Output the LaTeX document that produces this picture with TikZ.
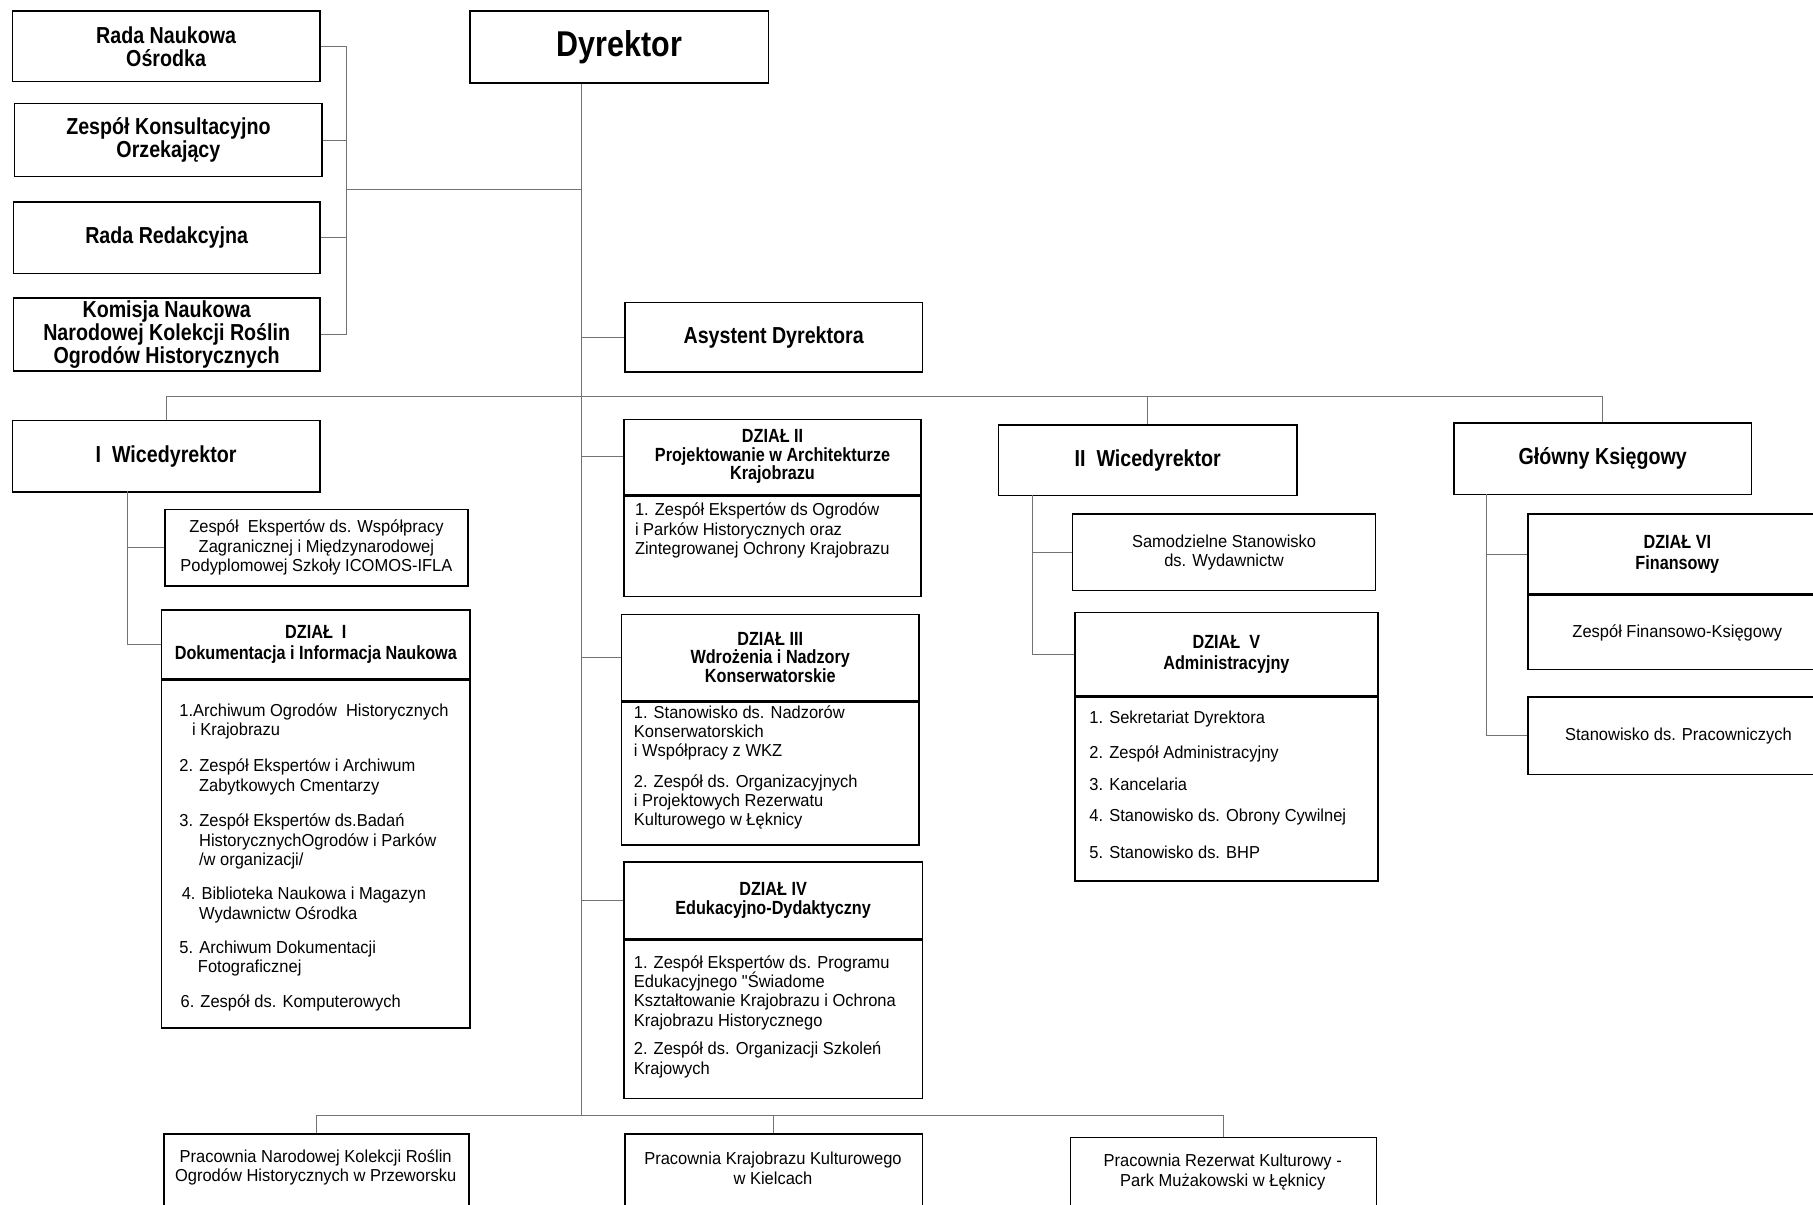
\documentclass[tikz,border=0pt]{standalone}
\usepackage{fontspec}
\usetikzlibrary{calc}
\newfontfamily\ttlfont[FakeStretch=0.85]{Liberation Sans}
\newfontfamily\bodyfont[FakeStretch=0.95]{Liberation Sans}
\tikzset{
  box/.style={draw=black, line width=1.3pt, inner sep=0pt, anchor=north west},
  ttl/.style={font={\ttlfont\bfseries\fontsize{20}{20}\selectfont}, align=center},
  hdr/.style={font={\ttlfont\bfseries\fontsize{16.5}{16}\selectfont}, align=center},
  bdy/.style={font={\bodyfont\fontsize{15}{16.7}\selectfont}, align=left, inner sep=0pt, anchor=north west},
  bdc/.style={font={\bodyfont\fontsize{15}{16.7}\selectfont}, align=center},
  conn/.style={draw=black!55, line width=0.9pt},
}
\begin{document}
\begin{tikzpicture}[x=1pt, y=-1pt]
\useasboundingbox (0,0) rectangle (1568,1042);
\fill[white] (0,0) rectangle (1568,1042);
\clip (0,0) rectangle (1568,1042);

% top-left councils
\node[box, ttl, minimum width=266pt, minimum height=61pt] (rada) at (10,9) {Rada Naukowa\\Ośrodka};
\node[box, ttl, minimum width=266pt, minimum height=63pt] (zko) at (12,89) {Zespół Konsultacyjno\\Orzekający};
\node[box, ttl, minimum width=265pt, minimum height=62pt] (rr) at (11,174) {Rada Redakcyjna};
\node[box, ttl, minimum width=265pt, minimum height=63pt] (kom) at (11,257) {Komisja Naukowa\\Narodowej Kolekcji Roślin\\Ogrodów Historycznych};

% director
\node[box, font={\ttlfont\bfseries\fontsize{31}{31}\selectfont}, minimum width=258pt, minimum height=62pt] (dyr) at (406,9) {Dyrektor};
\node[box, ttl, minimum width=257pt, minimum height=60pt] (asy) at (540,261) {Asystent Dyrektora};

% level 2
\node[box, ttl, minimum width=266pt, minimum height=62pt] (w1) at (10,363) {I~~Wicedyrektor};
\node[box, ttl, minimum width=258pt, minimum height=61pt] (w2) at (863,367) {II~~Wicedyrektor};
\node[box, ttl, minimum width=257pt, minimum height=62pt] (gk) at (1257,365) {Główny Księgowy};

% I Wicedyrektor subtree
\node[box, bdc, minimum width=262pt, minimum height=66pt] (zew) at (142,440) {Zespół~~Ekspertów ds. Współpracy\\Zagranicznej i Międzynarodowej\\Podyplomowej Szkoły ICOMOS-IFLA};
\node[box, hdr, minimum width=267pt, minimum height=59pt] (d1h) at (139,527) {DZIAŁ~~I\\[2pt]Dokumentacja i Informacja Naukowa};
\node[box, minimum width=267pt, minimum height=301pt] (d1b) at (d1h.south west) {};
\node[bdy] (d1t) at (155,608) {1.Archiwum Ogrodów~~Historycznych\\
\hspace*{11pt}i Krajobrazu\\[15pt]
2. Zespół Ekspertów i Archiwum\\
\hspace*{17pt}Zabytkowych Cmentarzy\\[14pt]
3. Zespół Ekspertów ds.Badań\\
\hspace*{17pt}HistorycznychOgrodów i Parków\\
\hspace*{17pt}/w organizacji/\\[13pt]
\hspace*{2pt}4. Biblioteka Naukowa i Magazyn\\
\hspace*{17pt}Wydawnictw Ośrodka\\[13pt]
5. Archiwum Dokumentacji\\
\hspace*{16pt}Fotograficznej\\[13pt]
\hspace*{1pt}6. Zespół ds. Komputerowych};

% middle column departments
\node[box, hdr, minimum width=257pt, minimum height=65pt] (d2h) at (539,362) {DZIAŁ II\\Projektowanie w Architekturze\\Krajobrazu};
\node[box, minimum width=257pt, minimum height=87pt] (d2b) at (d2h.south west) {};
\node[bdy] (d2t) at (549,435) {1. Zespół Ekspertów ds Ogrodów\\i Parków Historycznych oraz\\Zintegrowanej Ochrony Krajobrazu};

\node[box, hdr, minimum width=257pt, minimum height=74pt] (d3h) at (537,531) {DZIAŁ III\\Wdrożenia i Nadzory\\Konserwatorskie};
\node[box, minimum width=257pt, minimum height=124pt] (d3b) at (d3h.south west) {};
\node[bdy] (d3t) at (548,610) {1. Stanowisko ds. Nadzorów\\Konserwatorskich\\i Współpracy z WKZ\\[9.3pt]
2. Zespół ds. Organizacyjnych\\i Projektowych Rezerwatu\\Kulturowego w Łęknicy};

\node[box, hdr, minimum width=258pt, minimum height=66pt] (d4h) at (539,745) {DZIAŁ IV\\Edukacyjno-Dydaktyczny};
\node[box, minimum width=258pt, minimum height=137pt] (d4b) at (d4h.south west) {};
\node[bdy] (d4t) at (548,826) {1. Zespół Ekspertów ds. Programu\\Edukacyjnego "Świadome\\Kształtowanie Krajobrazu i Ochrona\\Krajobrazu Historycznego\\[8.3pt]
2. Zespół ds. Organizacji Szkoleń\\Krajowych};

% II Wicedyrektor subtree
\node[box, bdc, minimum width=262pt, minimum height=66pt] (sam) at (927,444) {Samodzielne Stanowisko\\ds. Wydawnictw};
\node[box, hdr, minimum width=262pt, minimum height=72pt] (d5h) at (929,529) {DZIAŁ~~V\\[2pt]Administracyjny};
\node[box, minimum width=262pt, minimum height=159pt] (d5b) at (d5h.south west) {};
\node[bdy] (d5t) at (942,615) {1. Sekretariat Dyrektora\\[12.8pt]
2. Zespół Administracyjny\\[11.3pt]
3. Kancelaria\\[10.3pt]
4. Stanowisko ds. Obrony Cywilnej\\[15.3pt]
5. Stanowisko ds. BHP};

% Glowny Ksiegowy subtree
\node[box, hdr, minimum width=258pt, minimum height=69pt] (d6h) at (1321,444) {DZIAŁ VI\\[2pt]Finansowy};
\node[box, bdc, minimum width=258pt, minimum height=64pt] (d6b) at (d6h.south west) {Zespół Finansowo-Księgowy};
\node[box, bdc, minimum width=260pt, minimum height=67pt] (sp) at (1321,602) {Stanowisko ds. Pracowniczych};

% bottom workshops
\node[box, minimum width=264pt, minimum height=100pt] (p1) at (141,980) {};
\node[box, minimum width=257pt, minimum height=100pt] (p2) at (540,980) {};
\node[box, minimum width=265pt, minimum height=100pt] (p3) at (925,983) {};
\node[bdc] (p1t) at (273,1009.5) {Pracownia Narodowej Kolekcji Roślin\\Ogrodów Historycznych w Przeworsku};
\node[bdc] (p2t) at (668.5,1010.5) {Pracownia Krajobrazu Kulturowego\\w Kielcach};
\node[bdc] (p3t) at (1057.5,1013.5) {Pracownia Rezerwat Kulturowy -\\Park Mużakowski w Łęknicy};

% connectors
\coordinate (ttop) at ($(dyr.south west)+(97,0)$);
\coordinate (tbot) at (503,965);
\coordinate (br) at (300,164);
\coordinate (bm) at (503,343);
\coordinate (w1v) at (110,425);
\coordinate (w2v) at (893,428);
\coordinate (gkv) at (1286,427);

\draw[conn] (ttop) -- (tbot);
\draw[conn] (rada.east) -- (rada.east -| br) -- (kom.east -| br) -- (kom.east);
\draw[conn] (zko.east) -- (zko.east -| br);
\draw[conn] (rr.east) -- (rr.east -| br);
\draw[conn] (br) -- (br -| ttop);
\draw[conn] (asy.west -| ttop) -- (asy.west);
\draw[conn] (w1.north) |- (bm) -| (gk.north);
\draw[conn] (bm -| w2.north) -- (w2.north);
\draw[conn] (d2h.west -| ttop) -- (d2h.west);
\draw[conn] (d3h.west -| ttop) -- (d3h.west);
\draw[conn] (d4h.west -| ttop) -- (d4h.west);
\draw[conn] (w1v) |- (d1h.west);
\draw[conn] (w1v |- zew.west) -- (zew.west);
\draw[conn] (w2v) |- (d5h.west);
\draw[conn] (w2v |- sam.west) -- (sam.west);
\draw[conn] (gkv) |- (sp.west);
\draw[conn] (gkv |- d6h.west) -- (d6h.west);
\draw[conn] (p1.north) |- (tbot) -| (p3.north);
\draw[conn] (tbot -| p2.north) -- (p2.north);
\end{tikzpicture}
\end{document}
